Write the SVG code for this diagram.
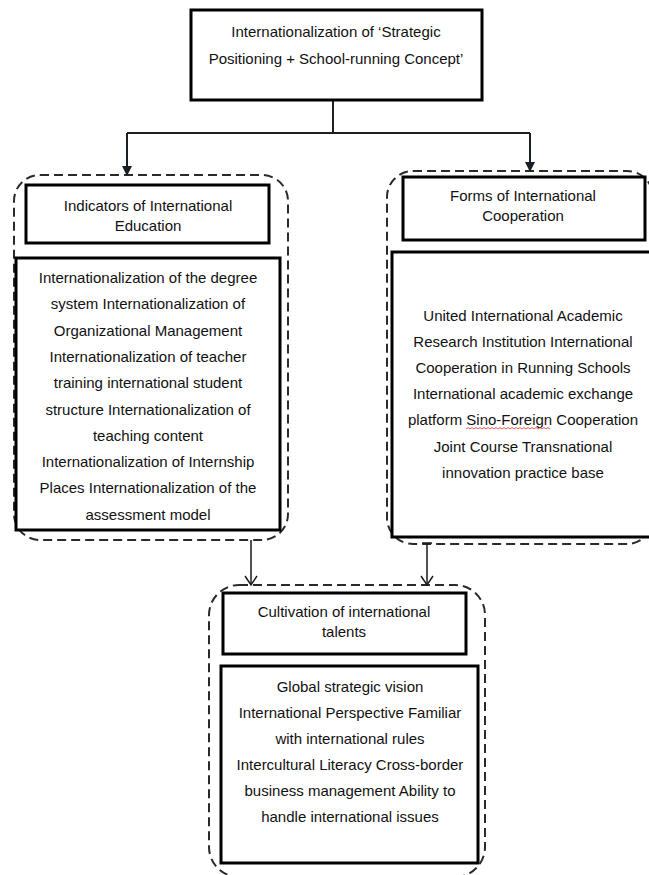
<svg xmlns="http://www.w3.org/2000/svg" width="649" height="875" viewBox="0 0 649 875">
<style>
.box{fill:#fff;stroke:#000;stroke-width:3}
.dash{fill:none;stroke:#2a2a2a;stroke-width:2;stroke-dasharray:9 5}
.t{font-family:"Liberation Sans",Arial,sans-serif;font-size:15px;fill:#111;text-anchor:middle}
.con{fill:none;stroke:#1a1f26;stroke-width:2}
.con2{fill:none;stroke:#1a1a1a;stroke-width:1.5}
</style>
<defs>
<marker id="fa" markerWidth="10" markerHeight="10" refX="9" refY="5" orient="auto" markerUnits="userSpaceOnUse">
<path d="M0,0 L10,5 L0,10 Z" fill="#1a1f26"/>
</marker>
<marker id="oa" markerWidth="12" markerHeight="14" refX="10" refY="7" orient="auto" markerUnits="userSpaceOnUse">
<path d="M1,1 L10,7 L1,13" fill="none" stroke="#1a1a1a" stroke-width="1.5"/>
</marker>
</defs>
<rect width="649" height="875" fill="#fff"/>

<g id="groups">
<rect id="group-left" class="dash" x="14" y="175" width="274" height="365" rx="26"/>
<rect id="group-right" class="dash" x="387" y="171" width="266" height="373" rx="26"/>
<rect id="group-bottom" class="dash" x="209" y="585" width="276" height="292" rx="30"/>
</g>

<g id="connectors">
<path class="con" d="M333,100 V133"/>
<path class="con" d="M127,133 H530"/>
<path class="con" d="M127,133 V175" marker-end="url(#fa)"/>
<path class="con" d="M530,133 V171" marker-end="url(#fa)"/>
<path class="con2" d="M251,540 V585" marker-end="url(#oa)"/>
<path class="con2" d="M427,543 V585" marker-end="url(#oa)"/>
<path class="con2" d="M422,543 H432"/>
</g>

<g id="node-top">
<rect class="box" x="191" y="10" width="291" height="90"/>
<text class="t" x="336" y="37">Internationalization of ‘Strategic</text>
<text class="t" x="336" y="64">Positioning + School-running Concept’</text>
</g>

<g id="node-indicators-header">
<rect class="box" x="26" y="185" width="243" height="58"/>
<text class="t" x="148" y="211">Indicators of International</text>
<text class="t" x="148" y="231">Education</text>
</g>

<g id="node-indicators-body">
<rect class="box" x="16" y="258" width="264" height="272"/>
<text class="t" x="148" y="283">Internationalization of the degree</text>
<text class="t" x="148" y="309.3">system Internationalization of</text>
<text class="t" x="148" y="335.6">Organizational Management</text>
<text class="t" x="148" y="361.9">Internationalization of teacher</text>
<text class="t" x="148" y="388.2">training international student</text>
<text class="t" x="148" y="414.5">structure Internationalization of</text>
<text class="t" x="148" y="440.8">teaching content</text>
<text class="t" x="148" y="467.1">Internationalization of Internship</text>
<text class="t" x="148" y="493.4">Places Internationalization of the</text>
<text class="t" x="148" y="519.7">assessment model</text>
</g>

<g id="node-forms-header">
<rect class="box" x="403" y="177" width="242" height="63"/>
<text class="t" x="523" y="201">Forms of International</text>
<text class="t" x="523" y="221">Cooperation</text>
</g>

<g id="node-forms-body">
<rect class="box" x="392" y="252" width="263" height="285"/>
<text class="t" x="523" y="321">United International Academic</text>
<text class="t" x="523" y="347.1">Research Institution International</text>
<text class="t" x="523" y="373.2">Cooperation in Running Schools</text>
<text class="t" x="523" y="399.3">International academic exchange</text>
<text class="t" x="523" y="425.4">platform Sino-Foreign Cooperation</text>
<text class="t" x="523" y="451.5">Joint Course Transnational</text>
<text class="t" x="523" y="477.6">innovation practice base</text>
<path d="M466,429 l2,-1.5 l2,1.5 l2,-1.5 l2,1.5 l2,-1.5 l2,1.5 l2,-1.5 l2,1.5 l2,-1.5 l2,1.5 l2,-1.5 l2,1.5 l2,-1.5 l2,1.5 l2,-1.5 l2,1.5 l2,-1.5 l2,1.5 l2,-1.5 l2,1.5 l2,-1.5 l2,1.5 l2,-1.5 l2,1.5 l2,-1.5 l2,1.5 l2,-1.5 l2,1.5 l2,-1.5 l2,1.5 l2,-1.5 l2,1.5 l2,-1.5 l2,1.5 l2,-1.5 l2,1.5 l2,-1.5 l2,1.5 l2,-1.5 l2,1.5 l2,-1.5 l2,1.5" fill="none" stroke="#e03030" stroke-width="0.8"/>
</g>

<g id="node-talents-header">
<rect class="box" x="223" y="593" width="243" height="61"/>
<text class="t" x="344" y="617">Cultivation of international</text>
<text class="t" x="344" y="637">talents</text>
</g>

<g id="node-talents-body">
<rect class="box" x="221" y="666" width="257" height="197"/>
<text class="t" x="350" y="692">Global strategic vision</text>
<text class="t" x="350" y="718">International Perspective Familiar</text>
<text class="t" x="350" y="744">with international rules</text>
<text class="t" x="350" y="770">Intercultural Literacy Cross-border</text>
<text class="t" x="350" y="796">business management Ability to</text>
<text class="t" x="350" y="822">handle international issues</text>
</g>
</svg>
